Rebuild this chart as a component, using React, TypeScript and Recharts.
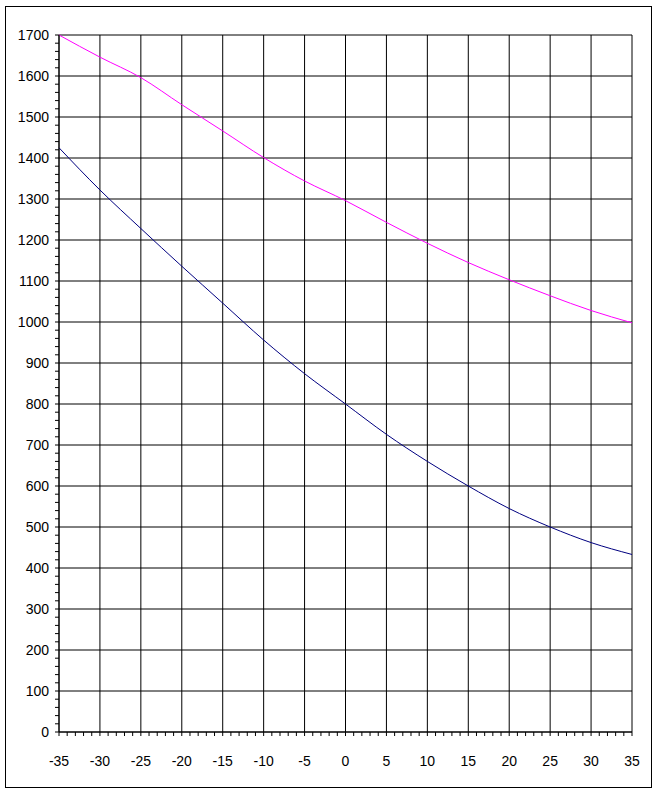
import { LineChart, Line, XAxis, YAxis, CartesianGrid } from 'recharts'

// temperatura (°C) y dos series
const temps = [-35, -30, -25, -20, -15, -10, -5, 0, 5, 10, 15, 20, 25, 30, 35]
const serieAlta = [1700, 1646, 1596, 1530, 1466, 1401, 1344, 1296, 1243, 1192, 1145, 1103, 1064, 1028, 998]
const serieBaja = [1425, 1322, 1228, 1136, 1046, 956, 874, 800, 726, 660, 600, 545, 500, 462, 433]

const xMajor = [-35, -30, -25, -20, -15, -10, -5, 0, 5, 10, 15, 20, 25, 30, 35]
const yMajor = [0, 100, 200, 300, 400, 500, 600, 700, 800, 900, 1000, 1100, 1200, 1300, 1400, 1500, 1600, 1700]

// marcas secundarias: cada 1 en X, cada 20 en Y
const xMinor: number[] = []
for (let v = -35; v <= 35; v++) xMinor.push(v)
const yMinor: number[] = []
for (let v = 0; v <= 1700; v += 20) yMinor.push(v)

const data = temps.map((t, i) => ({ t, alta: serieAlta[i], baja: serieBaja[i] }))

const font = '"Liberation Sans", Arial, sans-serif'

function XTick(props: any) {
  const { x, y, payload } = props
  if (payload.value % 5 !== 0) return null
  return (
    <text x={x} y={y + 30} textAnchor="middle" fontSize={14} fontFamily={font} fill="#000">
      {payload.value}
    </text>
  )
}

function YTick(props: any) {
  const { x, y, payload } = props
  if (payload.value % 100 !== 0) return null
  return (
    <text x={x - 6} y={y + 5} textAnchor="end" fontSize={14} fontFamily={font} fill="#000">
      {payload.value}
    </text>
  )
}

export default function App() {
  return (
    <div style={{ position: 'absolute', left: 0, top: 0, width: 660, height: 794, background: '#fff' }}>
      <div
        style={{
          position: 'absolute', left: 5, top: 6, width: 645, height: 780,
          border: '1px solid #000',
        }}
      />
      <div style={{ position: 'absolute', left: 0, top: 0 }}>
        <LineChart
          width={660}
          height={794}
          data={data}
          margin={{ top: 35, right: 28, bottom: 32, left: 9 }}
        >
          <CartesianGrid
            stroke="#000"
            strokeWidth={1}
            verticalValues={xMajor}
            horizontalValues={yMajor}
          />
          <XAxis
            dataKey="t"
            type="number"
            domain={[-35, 35]}
            ticks={xMinor}
            interval={0}
            height={30}
            tickSize={4}
            tickMargin={0}
            tick={<XTick />}
            stroke="#000"
            axisLine={{ stroke: '#000' }}
            tickLine={{ stroke: '#000' }}
          />
          <YAxis
            type="number"
            domain={[0, 1700]}
            ticks={yMinor}
            interval={0}
            width={50}
            tickSize={4}
            tickMargin={0}
            tick={<YTick />}
            stroke="#000"
            axisLine={{ stroke: '#000' }}
            tickLine={{ stroke: '#000' }}
          />
          <Line
            dataKey="alta"
            type="monotone"
            stroke="#ff00ff"
            strokeWidth={1}
            dot={false}
            isAnimationActive={false}
          />
          <Line
            dataKey="baja"
            type="monotone"
            stroke="#000080"
            strokeWidth={1}
            dot={false}
            isAnimationActive={false}
          />
        </LineChart>
      </div>
    </div>
  )
}
